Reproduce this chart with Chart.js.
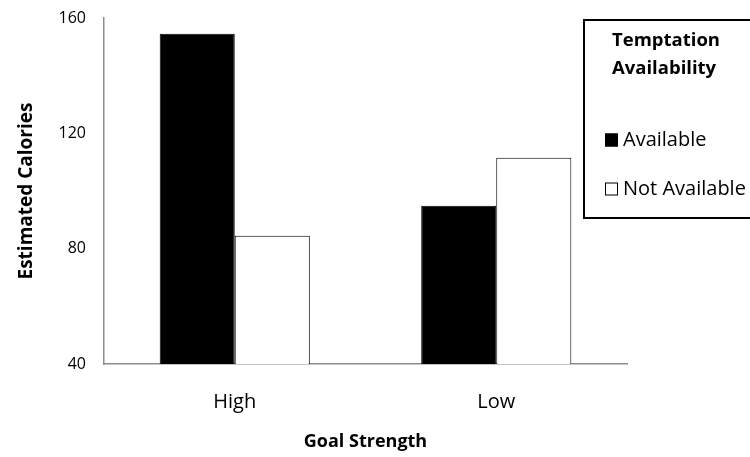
<!DOCTYPE html>
<html>
<head>
<meta charset="utf-8">
<script src="https://cdn.jsdelivr.net/npm/chart.js@4.4.0/dist/chart.umd.min.js"></script>
<style>
  html, body { margin: 0; padding: 0; background: #fff; }
  #wrap { width: 750px; height: 457px; }
</style>
</head>
<body>
<div id="wrap"><canvas id="chart" width="750" height="457"></canvas></div>
<script>
const categories = ['High', 'Low'];
const seriesNames = ['Available', 'Not Available'];
const available = [154.5, 94.9];
const notAvailable = [84.5, 111.5];
const yTicks = [40, 80, 120, 160];
const legendTitle = ['Temptation', 'Availability'];

const FONT = "'Open Sans', 'Noto Sans', sans-serif";

// boxed legend at the top right, drawn over the plot like the original
const boxLegend = {
  id: 'boxLegend',
  afterDraw(chart) {
    const ctx = chart.ctx;
    const x = 584, y = 20, w = 200, h = 198;
    ctx.save();
    ctx.fillStyle = '#fff';
    ctx.fillRect(x, y, w, h);
    ctx.lineWidth = 2;
    ctx.strokeStyle = '#000';
    ctx.strokeRect(x, y, w, h);

    ctx.fillStyle = '#000';
    ctx.textBaseline = 'middle';
    ctx.textAlign = 'left';
    ctx.font = `bold 18.5px ${FONT}`;
    legendTitle.forEach((line, i) => ctx.fillText(line, 612, 41 + i * 28));

    ctx.font = `20px ${FONT}`;
    chart.data.datasets.forEach((ds, i) => {
      const cy = 140 + i * 49;
      ctx.fillStyle = ds.backgroundColor;
      ctx.fillRect(605, cy - 6.5, 13, 13);
      ctx.lineWidth = 1;
      ctx.strokeStyle = '#000';
      ctx.strokeRect(605.5, cy - 6, 12, 12);
      ctx.fillStyle = '#000';
      ctx.fillText(ds.label, 623, cy);
    });
    ctx.restore();
  }
};

new Chart(document.getElementById('chart'), {
  type: 'bar',
  data: {
    labels: categories,
    datasets: [
      {
        label: seriesNames[0],
        data: available,
        backgroundColor: '#000',
        borderColor: '#000',
        borderWidth: 1
      },
      {
        label: seriesNames[1],
        data: notAvailable,
        backgroundColor: '#fff',
        borderColor: '#000',
        borderWidth: 1
      }
    ]
  },
  options: {
    responsive: false,
    animation: false,
    layout: { padding: { top: 18, right: 123, left: 0, bottom: 0 } },
    datasets: { bar: { categoryPercentage: 0.574, barPercentage: 1 } },
    plugins: {
      legend: { display: false },
      tooltip: { enabled: false }
    },
    scales: {
      x: {
        grid: { display: false, drawTicks: false },
        border: { color: '#8c8c8c', width: 1.5 },
        ticks: { color: '#000', font: { family: FONT, size: 20 }, padding: 26 },
        title: {
          display: true,
          text: 'Goal Strength',
          color: '#000',
          font: { family: FONT, size: 18, weight: 'bold' },
          padding: { top: 0, bottom: 4 }
        },
        afterFit(scale) { scale.height = 93; }
      },
      y: {
        min: yTicks[0],
        max: yTicks[yTicks.length - 1],
        afterBuildTicks(scale) { scale.ticks = yTicks.map(v => ({ value: v })); },
        grid: { display: false, drawTicks: false },
        border: { color: '#8c8c8c', width: 1.5 },
        ticks: { color: '#000', font: { family: FONT, size: 16 }, padding: 18 },
        title: {
          display: true,
          text: 'Estimated Calories',
          color: '#000',
          font: { family: FONT, size: 19, weight: 'bold' },
          padding: { top: 15, bottom: 0 }
        },
        afterFit(scale) {
          scale.width = 104;
          scale.paddingTop = 0;
          scale.paddingBottom = 0;
        }
      }
    }
  },
  plugins: [boxLegend]
});
</script>
</body>
</html>
